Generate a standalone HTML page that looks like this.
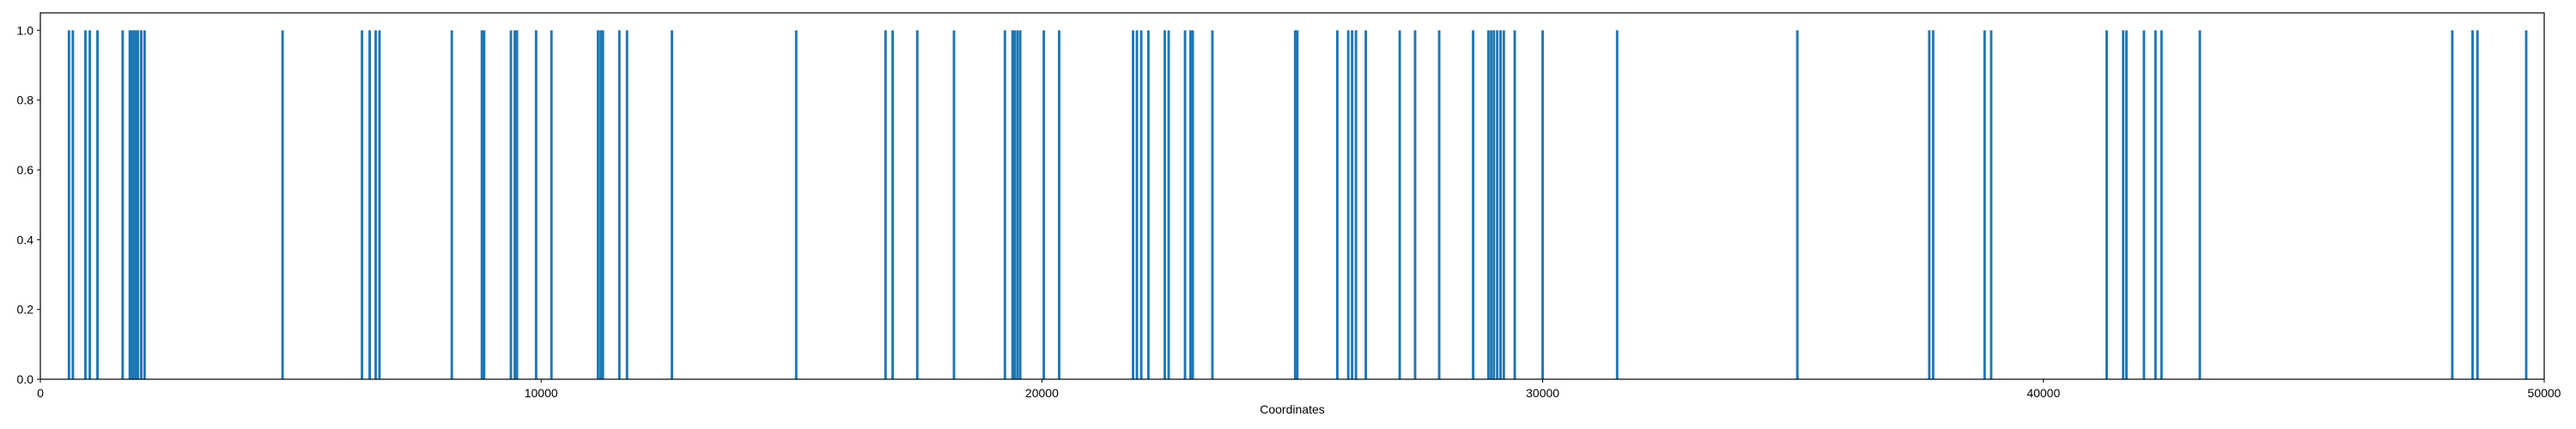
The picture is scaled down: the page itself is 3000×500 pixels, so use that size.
<!DOCTYPE html>
<html><head><meta charset="utf-8"><style>
html,body{margin:0;padding:0;background:#fff;}
svg{display:block;font-family:"Liberation Sans","DejaVu Sans",sans-serif;}
</style></head><body>
<svg id="chart" width="3000" height="500" viewBox="0 0 3000 500" xmlns="http://www.w3.org/2000/svg">
<g id="bars"></g>
<g id="axes"></g>
</svg>
<script>
const positions = [572,649,900,988,1141,1644,1786,1830,1873,1917,1950,2015,2081,4837,6423,6576,6696,6772,8216,8817,8861,9397,9474,9517,9900,10206,11136,11190,11234,11562,11715,12612,15094,
16877,17019,17511,18244,19261,19414,19458,19513,19567,20038,20344,21820,21897,21984,22126,22454,22531,22858,22968,23012,23405,25057,25100,25899,26118,26194,26271,26468,27145,27452,27933,28611,28917,28972,29026,29092,29158,29224,29442,29999,31487,
35085,37720,37797,38825,38956,41263,41592,41657,42007,42237,42357,43123,48164,48569,48667,49640];
const heights = positions.map(() => 1);
const xTicks = [0,10000,20000,30000,40000,50000];
const yTicks = [0.0,0.2,0.4,0.6,0.8,1.0];

const NS = "http://www.w3.org/2000/svg";
const L = 47, R = 2963, T = 15, B = 442;
const X_MAX = 50000, Y_MAX = 1.05, BAR_W = 50;
const xs = v => L + (v / X_MAX) * (R - L);
const ys = v => B - (v / Y_MAX) * (B - T);
function mk(tag, attrs){const e=document.createElementNS(NS,tag);for(const k in attrs)e.setAttribute(k,attrs[k]);return e;}

const bars = document.getElementById('bars');
positions.forEach((p, i) => {
  const x0 = xs(p - BAR_W/2), x1 = xs(p + BAR_W/2);
  const r = mk('rect', {x:x0, y:ys(heights[i]), width:Math.max(x1-x0,2), height:B-ys(heights[i]), fill:'#1f77b4'});
  
  
  bars.appendChild(r);
});

const axes = document.getElementById('axes');
const frame = mk('rect', {x:L, y:T, width:R-L, height:B-T, fill:'none', stroke:'#000', 'stroke-width':1.2});


axes.appendChild(frame);

function label(x, y, txt, anchor, name){
  const t = mk('text', {x:x, y:y, 'font-size':14, fill:'#000', 'text-anchor':anchor});
  t.textContent = txt;
  
  
  axes.appendChild(t);
}
xTicks.forEach(v => {
  const x = xs(v);
  const tk = mk('line', {x1:x, x2:x, y1:B, y2:B+4, stroke:'#000', 'stroke-width':1});
  
  
  axes.appendChild(tk);
  label(x, B+21, String(v), 'middle', 'x-tick-label');
});
yTicks.forEach(v => {
  const y = ys(v);
  const tk = mk('line', {x1:L-4, x2:L, y1:y, y2:y, stroke:'#000', 'stroke-width':1});
  
  
  axes.appendChild(tk);
  label(L-8, y+5, v.toFixed(1), 'end', 'y-tick-label');
});
label(1505, 482, 'Coordinates', 'middle', 'x-axis-title');
</script>
</body></html>
